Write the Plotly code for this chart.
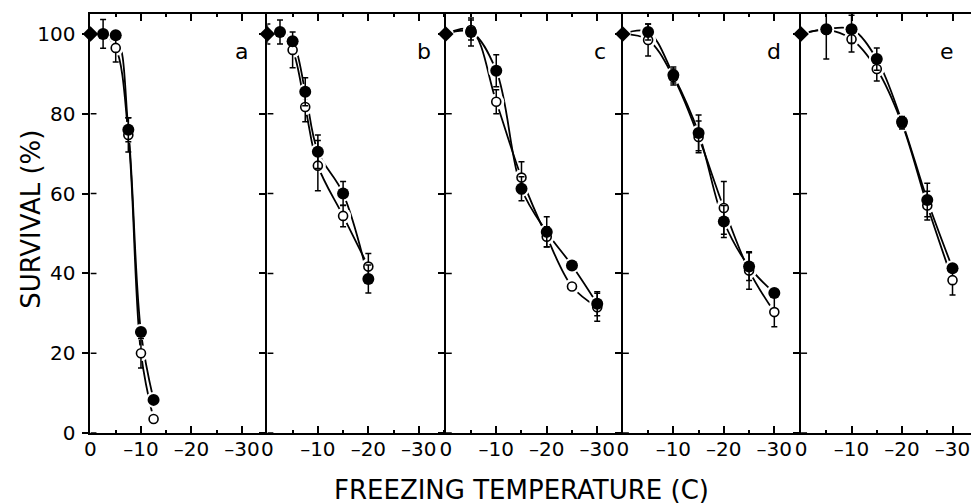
import plotly.graph_objects as go

# Freezing temperature (C) for each panel; index 0 is the unfrozen control
temps_a = [0, -2.5, -5, -7.5, -10, -12.5]
filled_a = [100, 100, 99.7, 76, 25.3, 8.3]
filled_sd_a = [0, 3.6, 0, 3.0, 0, 0]
open_a = [100, 100, 96.5, 74.7, 20, 3.5]
open_sd_a = [0, 0, 3.5, 4.3, 3.7, 0]

temps_b = [0, -2.5, -5, -7.5, -10, -15, -20]
filled_b = [100, 100.5, 98.2, 85.5, 70.5, 60, 38.6]
filled_sd_b = [2.5, 3.0, 0, 3.5, 4.2, 3.0, 3.5]
open_b = [100, 100.5, 96, 81.7, 67, 54.4, 41.7]
open_sd_b = [0, 0, 4.5, 3.7, 6.3, 2.7, 3.3]

temps_c = [0, -5, -10, -15, -20, -25, -30]
filled_c = [100, 100.5, 90.8, 61.2, 50.4, 42, 32.4]
filled_sd_c = [0, 3.5, 4.0, 3.0, 3.8, 0, 3.0]
open_c = [100, 101, 83, 64, 49.2, 36.7, 31.5]
open_sd_c = [0, 2.5, 3.0, 4.0, 2.5, 0, 3.5]

temps_d = [0, -5, -10, -15, -20, -25, -30]
filled_d = [100, 100.5, 89.7, 75.2, 53, 41.7, 35.1]
filled_sd_d = [0, 2.0, 2.0, 4.5, 4.0, 3.5, 0]
open_d = [100, 98.5, 89.2, 74.2, 56.4, 40.7, 30.3]
open_sd_d = [0, 4.0, 2.0, 4.0, 6.6, 4.7, 3.7]

temps_e = [0, -5, -10, -15, -20, -25, -30]
filled_e = [100, 101.2, 101.2, 93.7, 78, 58.4, 41.3]
filled_sd_e = [0, 7.5, 3.5, 2.8, 1.3, 4.2, 0]
open_e = [100, 101, 98.7, 91.2, 77.5, 57, 38.3]
open_sd_e = [0, 0, 3.2, 3.0, 1.3, 3.6, 3.7]

panel_letters = ["a", "b", "c", "d", "e"]
letter_x = [-30, -31, -30.5, -30, -29]
letter_y = 95.5

x_tick_vals = [0, -10, -20, -30]
x_tick_text = ["0", "\u201310", "\u201320", "\u201330"]
y_tick_vals = [0, 20, 40, 60, 80, 100]

panels = [
    (temps_a, filled_a, filled_sd_a, open_a, open_sd_a),
    (temps_b, filled_b, filled_sd_b, open_b, open_sd_b),
    (temps_c, filled_c, filled_sd_c, open_c, open_sd_c),
    (temps_d, filled_d, filled_sd_d, open_d, open_sd_d),
    (temps_e, filled_e, filled_sd_e, open_e, open_sd_e),
]

W, H = 971, 504
PLOT_TOP, PLOT_BOTTOM = 14, 433
PLOT_H = PLOT_BOTTOM - PLOT_TOP
edges_px = [85, 263, 442.5, 620.7, 800, 971]
px_per_deg = 5.08
FONT = "DejaVu Sans, Verdana, sans-serif"

fig = go.Figure()

for i, (t, f, fsd, o, osd) in enumerate(panels):
    n = i + 1
    xa = "x" if n == 1 else f"x{n}"
    ya = "y" if n == 1 else f"y{n}"

    # fitted curves
    for vals in (f, o):
        fig.add_trace(go.Scatter(
            x=t, y=vals, mode="lines", xaxis=xa, yaxis=ya,
            line=dict(color="black", width=1.8, shape="spline", smoothing=1),
            cliponaxis=False, hoverinfo="skip", showlegend=False))

    # white halo so curves break around the symbols
    fig.add_trace(go.Scatter(
        x=t[1:] + t[1:] + t[:1], y=f[1:] + o[1:] + f[:1], mode="markers",
        xaxis=xa, yaxis=ya,
        marker=dict(size=16, color="white", line=dict(width=0)),
        cliponaxis=False, hoverinfo="skip", showlegend=False))

    # open symbols
    fig.add_trace(go.Scatter(
        x=t[1:], y=o[1:], mode="markers", xaxis=xa, yaxis=ya,
        marker=dict(symbol="circle", size=9, color="white",
                    line=dict(color="black", width=1.6)),
        error_y=dict(type="data", array=osd[1:], color="black",
                     thickness=1.5, width=3),
        cliponaxis=False, showlegend=False))

    # filled symbols
    fig.add_trace(go.Scatter(
        x=t[1:], y=f[1:], mode="markers", xaxis=xa, yaxis=ya,
        marker=dict(symbol="circle", size=12, color="black"),
        error_y=dict(type="data", array=fsd[1:], color="black",
                     thickness=1.5, width=3),
        cliponaxis=False, showlegend=False))

    # control (unfrozen) point
    fig.add_trace(go.Scatter(
        x=t[:1], y=f[:1], mode="markers", xaxis=xa, yaxis=ya,
        marker=dict(symbol="diamond", size=12, color="black"),
        error_y=dict(type="data", array=fsd[:1], color="black",
                     thickness=1.5, width=3),
        cliponaxis=False, showlegend=False))

    x0p, x1p = edges_px[i], edges_px[i + 1]
    span = (x1p - x0p) / px_per_deg
    xkey = "xaxis" if n == 1 else f"xaxis{n}"
    ykey = "yaxis" if n == 1 else f"yaxis{n}"
    fig.update_layout({
        xkey: dict(
            domain=[x0p / W, x1p / W], range=[0, -span], anchor=ya,
            showgrid=False, zeroline=False,
            showline=True, linecolor="black", linewidth=2, mirror="ticks",
            ticks="inside", ticklen=7, tickwidth=1.5, tickcolor="black",
            tickvals=x_tick_vals, ticktext=x_tick_text,
            ticklabeloverflow="allow", ticklabelstandoff=-3,
            minor=dict(ticks="inside", ticklen=3, tickwidth=1.5,
                       tickcolor="black", dtick=5, tick0=0),
            tickfont=dict(family=FONT, size=20, color="black")),
        ykey: dict(
            domain=[0, 1], range=[0, 105], anchor=xa,
            showgrid=False, zeroline=False,
            showline=True, linecolor="black", linewidth=2,
            ticks="outside", ticklen=6, tickwidth=1.5, tickcolor="black",
            tickvals=y_tick_vals, showticklabels=(n == 1),
            ticklabelstandoff=3,
            tickfont=dict(family=FONT, size=20, color="black")),
    })

    # inner half of the y ticks (ticks cross the axis line)
    for yv in y_tick_vals:
        fig.add_shape(type="line", xref=xa, yref=ya, xsizemode="pixel",
                      xanchor=0, x0=0, x1=6, y0=yv, y1=yv,
                      line=dict(color="black", width=1.5))

    fig.add_annotation(x=letter_x[i], y=letter_y, xref=xa, yref=ya,
                       text=panel_letters[i], showarrow=False,
                       xanchor="center", yanchor="middle",
                       font=dict(family=FONT, size=22, color="black"))

fig.add_annotation(x=25 / W, y=(PLOT_BOTTOM - 219) / PLOT_H,
                   xref="paper", yref="paper",
                   text="SURVIVAL (%)", textangle=-90, showarrow=False,
                   xanchor="center", yanchor="middle",
                   font=dict(family=FONT, size=26, color="black"))
fig.add_annotation(x=519 / W, y=(PLOT_BOTTOM - 490) / PLOT_H,
                   xref="paper", yref="paper",
                   text="FREEZING TEMPERATURE (C)", showarrow=False,
                   xanchor="center", yanchor="middle",
                   font=dict(family=FONT, size=26, color="black"))

fig.update_layout(
    width=W, height=H,
    margin=dict(l=0, r=0, t=PLOT_TOP, b=H - PLOT_BOTTOM),
    paper_bgcolor="white", plot_bgcolor="white",
    showlegend=False,
)

fig.write_html("out.html")
